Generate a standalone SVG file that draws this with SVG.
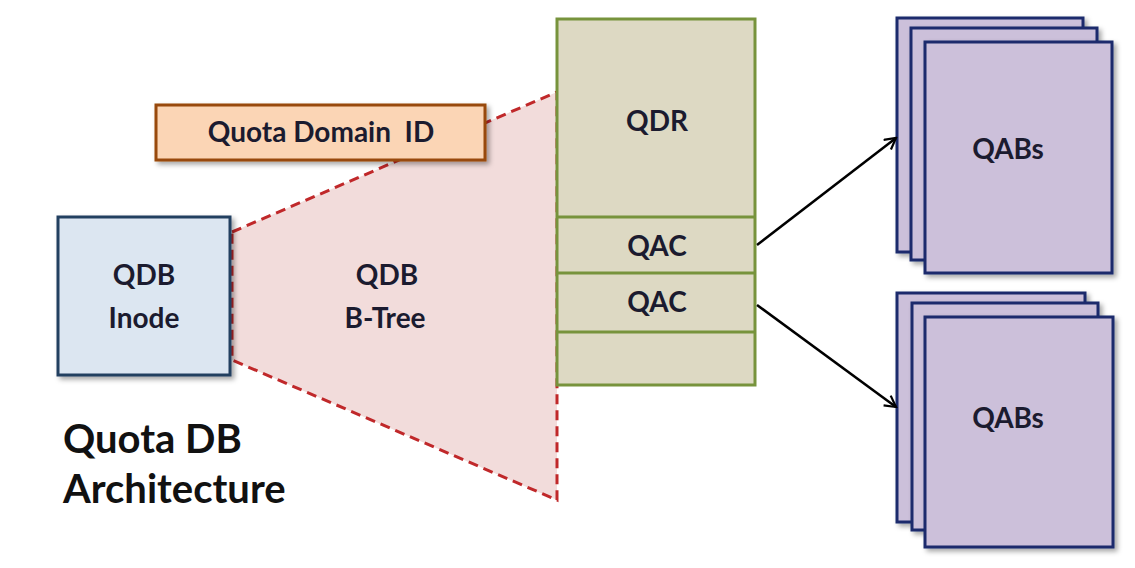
<svg xmlns="http://www.w3.org/2000/svg" width="1135" height="568" viewBox="0 0 1135 568">
<defs>
<filter id="sh" x="-10%" y="-10%" width="130%" height="130%">
<feDropShadow dx="3" dy="3" stdDeviation="2.5" flood-color="#000" flood-opacity="0.35"/>
</filter>
<marker id="arr" viewBox="0 0 14 14" refX="12" refY="7" markerWidth="14" markerHeight="14" markerUnits="userSpaceOnUse" orient="auto">
<path d="M1,1 L12,7 L1,13" fill="none" stroke="#000" stroke-width="2.2"/>
</marker>
<style>
.t{font-family:Lato,"Open Sans","Liberation Sans",sans-serif;font-weight:bold;font-size:28px;fill:#1b1b2f;text-anchor:middle}
.title{font-family:Lato,"Open Sans","Liberation Sans",sans-serif;font-weight:bold;font-size:40px;fill:#111}
.qab{fill:#ccc0da;stroke:#1a2a6c;stroke-width:3}
.col{fill:#ddd9c3;stroke:#77933c;stroke-width:3}
.conn{stroke:#000;stroke-width:2.5;fill:none}
</style>
</defs>
<rect width="1135" height="568" fill="#fff"/>
<g id="btree">
<polygon points="232,232 557,92 557,500 232,360" fill="#f2dcdb" stroke="#c0282a" stroke-width="3" stroke-dasharray="10,6"/>
<text class="t" x="387" y="285">QDB</text>
<text class="t" x="385" y="328">B-Tree</text>
</g>
<g id="inode">
<rect x="58" y="217" width="172" height="158" fill="#dce6f1" stroke="#243f60" stroke-width="3" filter="url(#sh)"/>
<text class="t" x="144" y="285">QDB</text>
<text class="t" x="144" y="328">Inode</text>
</g>
<g id="domain-id">
<rect x="156" y="105" width="329" height="55" fill="#fbd5b5" stroke="#984807" stroke-width="3" filter="url(#sh)"/>
<text class="t" x="321" y="142" xml:space="preserve">Quota Domain  ID</text>
</g>
<g id="column">
<rect class="col" x="557" y="19" width="198" height="366"/>
<line class="col" x1="557" y1="217" x2="755" y2="217"/>
<line class="col" x1="557" y1="273" x2="755" y2="273"/>
<line class="col" x1="557" y1="332" x2="755" y2="332"/>
<text class="t" x="657" y="131">QDR</text>
<text class="t" x="657" y="256">QAC</text>
<text class="t" x="657" y="312">QAC</text>
</g>
<g id="qabs-top">
<rect class="qab" x="897" y="18" width="186" height="234" filter="url(#sh)"/>
<rect class="qab" x="911" y="28" width="186" height="232" filter="url(#sh)"/>
<rect class="qab" x="925" y="42" width="187" height="231" filter="url(#sh)"/>
<text class="t" x="1008" y="159">QABs</text>
</g>
<g id="qabs-bottom">
<rect class="qab" x="897" y="293" width="188" height="229" filter="url(#sh)"/>
<rect class="qab" x="912" y="303" width="186" height="227" filter="url(#sh)"/>
<rect class="qab" x="925" y="317" width="188" height="230" filter="url(#sh)"/>
<text class="t" x="1008" y="428">QABs</text>
</g>
<g id="connectors">
<line class="conn" x1="757" y1="245" x2="896" y2="138" marker-end="url(#arr)"/>
<line class="conn" x1="757" y1="305" x2="896" y2="407" marker-end="url(#arr)"/>
</g>
<g id="caption">
<text class="title" x="63" y="453">Quota DB</text>
<text class="title" x="63" y="503">Architecture</text>
</g>
</svg>
